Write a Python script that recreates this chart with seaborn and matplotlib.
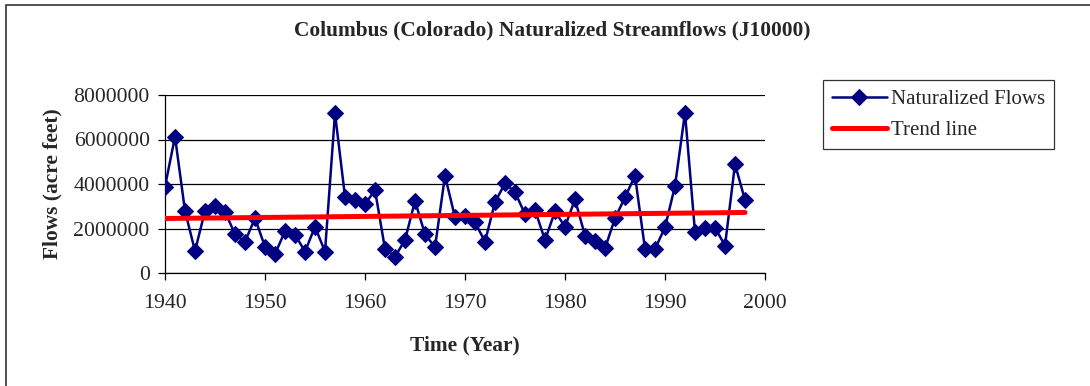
import matplotlib
matplotlib.use("Agg")
import matplotlib.pyplot as plt
import matplotlib.ticker as mticker
from matplotlib.patches import Rectangle
import numpy as np
import pandas as pd
import seaborn as sns

# Annual naturalized streamflow at Columbus, Colorado River (acre feet)
years = list(range(1940, 1999))
flows = [
    3880000, 6130000, 2790000, 990000, 2790000, 3000000, 2760000, 1740000, 1410000, 2460000,
    1180000, 850000, 1880000, 1730000, 960000, 2080000, 960000, 7180000, 3430000, 3260000,
    3090000, 3730000, 1080000, 730000, 1480000, 3240000, 1740000, 1160000, 4370000, 2500000,
    2560000, 2280000, 1410000, 3180000, 4030000, 3630000, 2650000, 2830000, 1480000, 2770000,
    2080000, 3310000, 1680000, 1440000, 1110000, 2460000, 3400000, 4370000, 1080000, 1080000,
    2050000, 3910000, 7200000, 1830000, 2040000, 2040000, 1230000, 4890000, 3280000,
]

# Linear trend endpoints (1940 and 1998)
trend_years = [1940, 1998]
trend_values = [2450000, 2720000]

y_ticks = [0, 2000000, 4000000, 6000000, 8000000]
x_ticks = [1940, 1950, 1960, 1970, 1980, 1990, 2000]

title = "Columbus (Colorado) Naturalized Streamflows (J10000)"
x_label = "Time (Year)"
y_label = "Flows (acre feet)"

sns.set_style("white")
plt.rcParams["font.family"] = ["Liberation Serif", "DejaVu Serif"]

W, H = 1090, 386
fig = plt.figure(figsize=(W / 100, H / 100), dpi=100)
ax = fig.add_axes([165 / W, 1 - 273 / H, 600 / W, 178 / H])

df_flow = pd.DataFrame({"year": years, "flow": flows})
df_trend = pd.DataFrame({"year": trend_years, "flow": trend_values})

sns.lineplot(data=df_flow, x="year", y="flow", ax=ax, color="#000080",
             linewidth=1.8, marker="D", markersize=8.3, markeredgecolor="#000080",
             label="Naturalized Flows", zorder=3)
sns.lineplot(data=df_trend, x="year", y="flow", ax=ax, color="#FF0000",
             linewidth=3.6, label="Trend line", zorder=4)

ax.set_xlim(1940, 2000)
ax.set_ylim(0, 8000000)
ax.set_xticks(x_ticks)
ax.set_yticks(y_ticks)
ax.yaxis.set_major_formatter(mticker.FuncFormatter(lambda v, p: f"{int(v)}"))
ax.grid(axis="y", color="black", linewidth=0.9)
ax.grid(axis="x", visible=False)
ax.set_axisbelow(True)

for side in ["top", "right"]:
    ax.spines[side].set_visible(False)
for side in ["left", "bottom"]:
    ax.spines[side].set_color("black")
    ax.spines[side].set_linewidth(0.9)

ax.tick_params(axis="both", direction="out", length=5, width=0.9, color="black",
               labelsize=15.7, left=True, bottom=True)
ax.tick_params(axis="x", pad=10)
ax.tick_params(axis="y", pad=6)

ax.set_xlabel(x_label, fontsize=15.4, fontweight="bold", va="center")
ax.set_ylabel(y_label, fontsize=15.4, fontweight="bold", va="center")
ax.xaxis.set_label_coords(0.5, (273 - 345) / 178)
ax.yaxis.set_label_coords((52 - 165) / 600, 0.5)
fig.text(552 / W, 1 - 30 / H, title, ha="center", va="center",
         fontsize=15.4, fontweight="bold")

leg = ax.legend(loc="upper left", bbox_to_anchor=(823 / W, 1 - 80 / H),
                bbox_transform=fig.transFigure, frameon=True, fontsize=15,
                handlelength=2.6, handletextpad=0.2, borderpad=0.45,
                labelspacing=0.55, borderaxespad=0, fancybox=False)
leg.get_frame().set_edgecolor("black")
leg.get_frame().set_linewidth(0.9)

# Chart area border
fig.patches.append(Rectangle((6 / W, -0.05), 1.2, 1 - 5 / H + 0.05,
                             transform=fig.transFigure, fill=False,
                             edgecolor="#333333", linewidth=1.2))

fig.savefig("out.png", dpi=100)
